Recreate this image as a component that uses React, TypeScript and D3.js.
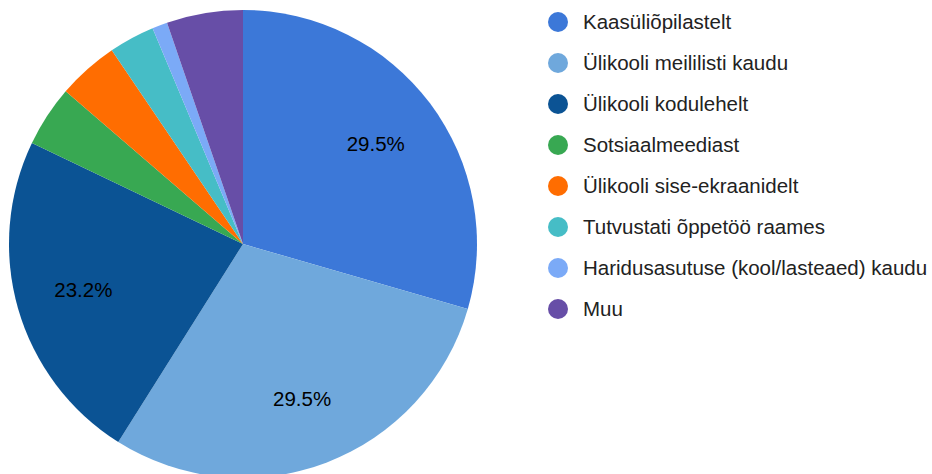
import { useRef, useEffect } from "react";
import * as d3 from "d3";

const categories = [
  "Kaasüliõpilastelt",
  "Ülikooli meililisti kaudu",
  "Ülikooli kodulehelt",
  "Sotsiaalmeediast",
  "Ülikooli sise-ekraanidelt",
  "Tutvustati õppetöö raames",
  "Haridusasutuse (kool/lasteaed) kaudu",
  "Muu",
];
const counts = [28, 28, 22, 4, 4, 3, 1, 5];
const colors = [
  "#3c78d8",
  "#6fa8dc",
  "#0b5394",
  "#38a852",
  "#ff6d01",
  "#46bdc6",
  "#7baaf7",
  "#674ea7",
];

function App() {
  const svgRef = useRef<SVGSVGElement>(null);

  useEffect(() => {
    const w = 932;
    const h = 474;
    const svg = d3.select(svgRef.current).attr("width", w).attr("height", h);
    svg.selectAll("*").remove();

    const cx = 243;
    const cy = 244;
    const r = 234;
    const total = d3.sum(counts);

    const pie = d3
      .pie<number>()
      .sort(null)
      .value((d) => d);
    const arcs = pie(counts);
    const arc = d3.arc<d3.PieArcDatum<number>>().innerRadius(0).outerRadius(r);
    const labelArc = d3
      .arc<d3.PieArcDatum<number>>()
      .innerRadius(r * 0.71)
      .outerRadius(r * 0.71);

    const g = svg.append("g").attr("transform", `translate(${cx},${cy})`);
    g.selectAll("path")
      .data(arcs)
      .enter()
      .append("path")
      .attr("d", arc)
      .attr("fill", (_, i) => colors[i]);

    // only big slices get a label
    g.selectAll("text")
      .data(arcs.filter((a) => a.data / total > 0.1))
      .enter()
      .append("text")
      .attr("transform", (d) => `translate(${labelArc.centroid(d)})`)
      .attr("text-anchor", "middle")
      .attr("dy", "0.35em")
      .style("font-family", "Liberation Sans, Arial, sans-serif")
      .style("font-size", "20.5px")
      .attr("fill", "#000")
      .text((d) => ((d.data / total) * 100).toFixed(1) + "%");

    // legend
    const legend = svg
      .selectAll(".legend")
      .data(categories)
      .enter()
      .append("g")
      .attr("transform", (_, i) => `translate(558, ${22 + i * 41})`);
    legend
      .append("circle")
      .attr("r", 10)
      .attr("fill", (_, i) => colors[i]);
    legend
      .append("text")
      .attr("x", 25)
      .attr("dy", "0.35em")
      .style("font-family", "Liberation Sans, Arial, sans-serif")
      .style("font-size", "20.5px")
      .attr("fill", "#222")
      .text((d) => d);
  }, []);

  return (
    <svg
      ref={svgRef}
      style={{ position: "absolute", left: 0, top: 0 }}
    ></svg>
  );
}

export default App;
